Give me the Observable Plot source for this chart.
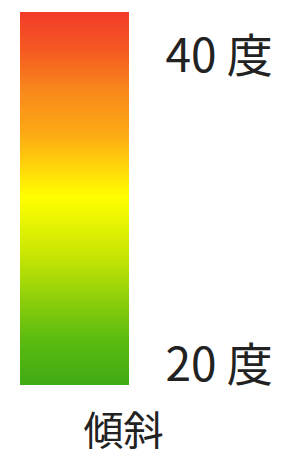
<!DOCTYPE html>
<html>
<head>
<meta charset="utf-8">
<script src="https://cdn.jsdelivr.net/npm/d3@7"></script>
<script src="https://cdn.jsdelivr.net/npm/@observablehq/plot@0.6"></script>
<style>
  html, body { margin: 0; padding: 0; background: #fff; }
  svg { display: block; }
</style>
</head>
<body>
<div id="chart"></div>
<script>
// Legend data
const legendTitle = "傾斜";
const tickValues = [20, 40];
const tickUnit = "度";
const barRange = [18.8, 43.0];           // degrees covered by the colour bar
const stopValues = [43.0, 40.5, 37.8, 35.2, 33.0, 31.0, 27.0, 24.5, 21.8, 18.8];
const stopColors = ["#f23a2a", "#f55a22", "#f88a1a", "#fca814", "#ffd40a", "#ffff00", "#c4e404", "#90d00a", "#5cbc10", "#40aa14"];

const W = 281, H = 458;
const plot = Plot.plot({
  width: W,
  height: H,
  marginLeft: 20,
  marginRight: 152,
  marginTop: 12,
  marginBottom: 73,
  x: {domain: [0, 1], axis: null},
  y: {domain: barRange, axis: null},
  style: {fontFamily: "'Noto Sans CJK JP', 'Noto Sans', sans-serif", background: "#fff"},
  marks: [
    Plot.rect([barRange], {x1: 0, x2: 1, y1: d => d[0], y2: d => d[1], fill: "url(#slopeGrad)"}),
    Plot.axisY(tickValues, {
      anchor: "right", tickSize: 0, tickPadding: 36, dy: -1,
      tickFormat: d => `${d} ${tickUnit}`, fontSize: 46, fill: "#222", textAnchor: "start", label: null
    }),
    Plot.text([legendTitle], {
      frameAnchor: "bottom-left", dx: 103, dy: 59, fontSize: 40, fill: "#222", textAnchor: "middle"
    })
  ]
});

// gradient definition built from the stop arrays via the y scale domain
const yScale = plot.scale("y");
const ns = "http://www.w3.org/2000/svg";
const defs = document.createElementNS(ns, "defs");
const grad = document.createElementNS(ns, "linearGradient");
grad.setAttribute("id", "slopeGrad");
grad.setAttribute("x1", "0"); grad.setAttribute("y1", "0");
grad.setAttribute("x2", "0"); grad.setAttribute("y2", "1");
const [lo, hi] = yScale.domain;
stopValues.forEach((v, i) => {
  const s = document.createElementNS(ns, "stop");
  s.setAttribute("offset", ((hi - v) / (hi - lo)).toFixed(4));
  s.setAttribute("stop-color", stopColors[i]);
  grad.appendChild(s);
});
defs.appendChild(grad);
plot.insertBefore(defs, plot.firstChild);

document.getElementById("chart").appendChild(plot);
</script>
</body>
</html>
